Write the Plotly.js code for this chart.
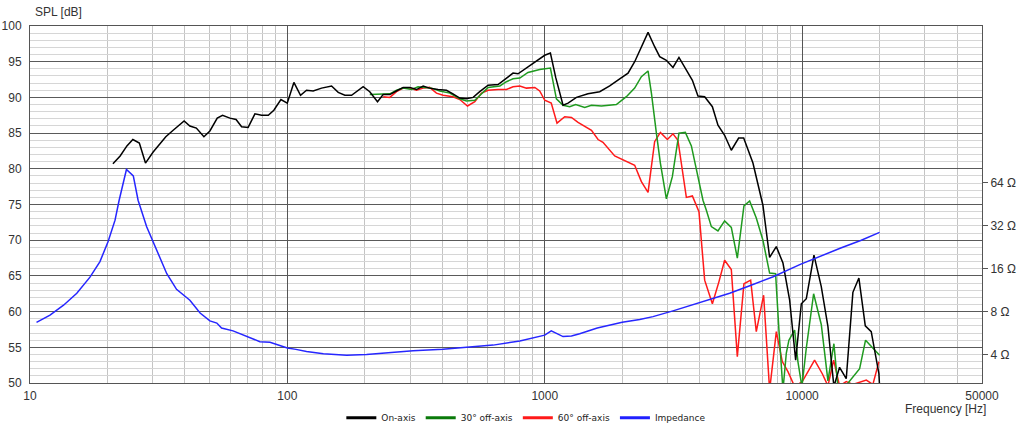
<!DOCTYPE html>
<html>
<head>
<meta charset="utf-8">
<script src="https://cdn.plot.ly/plotly-3.0.1.min.js"></script>
<style>html,body{margin:0;padding:0;background:#fff;}#chart{width:1024px;height:433px;}</style>
</head>
<body>
<div id="chart"></div>
<script>
// On-axis SPL
var onFreq = [21.0,22.4,23.8,25.1,26.6,28.1,30.1,33.7,36.0,39.7,41.8,44.3,47.4,50,53.4,56.0,59.8,63.2,66.4,70.4,74.8,79.4,84.3,88.6,94.4,99.9,106,112.5,118.7,126,135.8,148.5,157.6,167.3,177.6,197,209,224,235.6,250,265,281.8,299,317.5,337,357,385,415,440,467.7,496,527,559,602.6,658.8,710,753,787.6,849,928.5,1000,1052,1103,1178,1232,1328,1472,1635,1788,1956,2107,2236,2374,2520,2673,2797,2969,3150,3323,3498,3747,3939,4182,4481,4711,5000,5308,5668,5929,6441,7043,7478,7940,8426,8944,9440,9930,10383,11119,11870,12600,13290,13980,14842,15752,16620,17600,18560,19880,20100];
var onSpl = [80.7,81.8,83.2,84.1,83.6,80.8,82.35,84.5,85.4,86.7,86.0,85.7,84.5,85.3,87.1,87.5,87.1,86.9,85.9,85.8,87.7,87.5,87.5,88.2,89.7,89.2,92.1,90.3,91.0,90.9,91.3,91.6,90.7,90.3,90.3,91.5,90.8,89.4,90.4,90.4,90.9,91.4,91.4,91.1,91.6,91.3,91.1,91.0,90.5,89.9,89.8,90.0,90.8,91.7,91.8,92.7,93.4,93.3,94.1,95.1,95.9,96.2,92.8,88.9,89.2,90.0,90.5,90.8,91.6,92.6,93.4,95.0,97.1,99.1,97.1,95.7,95.2,94.2,95.6,94.3,92.4,90.2,90.1,88.7,86.1,84.7,82.6,84.3,84.3,80.8,74.9,67.6,69.1,66.8,61.6,53.2,61.1,61.8,67.9,63.5,57.9,49.5,52.2,50.6,62.7,64.7,58.0,57.2,51.3,48];

// 30 deg off-axis SPL
var offFreq30 = [209,229,250,265.6,281.8,303.6,322,342,363,391,427.6,467.7,496,535,568,602.6,669,710,753,800,861,956,1052,1110,1178,1250,1319,1430,1519,1661,1898,2076,2236,2374,2520,2597,2715,2814,2969,3132,3323,3518,3713,3882,4119,4246,4440,4710,5000,5308,5601,5943,6254,6637,7043,7478,7889,8128,8426,8683,8886,9352,9632,9982,10383,11085,11870,12600,13290,13772,14930,16730,17640,20000];
var offSpl30 = [90.4,90.4,90.5,91.0,91.3,91.1,91.5,91.4,91.3,90.9,90.6,89.8,89.5,89.6,90.5,91.4,91.6,92.2,92.6,92.7,93.5,93.9,94.1,89.8,88.9,88.7,89.0,88.6,88.9,88.8,89.0,90.1,91.3,92.9,93.7,90.6,85.0,80.8,75.8,78.9,85.0,85.1,83.2,79.8,75.6,74.2,71.9,71.3,72.7,71.8,67.5,74.8,75.5,73.1,70.0,65.4,65.3,57.4,49,54.2,56.0,57.4,53.0,49.5,54.9,62.5,58.2,50.3,55.5,49.5,49.8,52.0,56.0,53.9];

// 60 deg off-axis SPL
var offFreq60 = [235.6,250,265.6,281.8,299,317.5,337,357,379.6,402.7,440,467.7,501,535,568,602.6,658.8,710,753,800,849,915,956,1000,1060,1116,1196,1270,1347,1452,1519,1611,1684,1870,2045,2236,2374,2520,2673,2814,2996,3150,3293,3444,3550,3747,3974,4182,4481,4753,5000,5308,5601,5943,6310,6637,7087,7478,7940,8376,8810,9352,10017,11180,11980,12600,13260,13980,14842,15752,16980,17760,18840,19880];
var offSpl60 = [90.1,90.0,90.8,91.3,91.3,91.0,91.3,91.4,90.6,90.3,90.1,89.7,88.8,89.4,90.6,91.0,91.1,91.1,91.5,91.6,91.3,91.4,90.9,89.6,89.2,86.4,87.3,87.2,86.5,85.8,85.4,84.1,83.7,81.8,81.1,80.5,78.2,76.7,83.8,85.1,84.1,84.9,84.0,79.4,76.0,76.2,74.0,64.4,61.1,64.2,67.2,65.9,53.7,63.9,64.4,57.2,62.3,49,57.2,53.0,51.6,49.5,50.2,53.2,51.3,49.6,53.2,49.6,50.2,49.8,50.2,50.4,49.8,53.0];

// Impedance (ohm)
var impFreq = [10.6,11.96,13.5,15.2,17.1,18.7,20.1,21.4,22.2,23.7,25.2,26.3,28.4,31.0,34.0,37.1,41.8,45.8,50,53.2,55.5,61.5,69.3,78.2,85.6,93.5,100,108,118.7,138,170,203,250,308,402,496,630,800,1000,1060,1178,1270,1367,1600,2000,2339,2634,3150,3642,4430,5230,6260,7720,9840,11440,14130,16980,20000];
var impOhm = [6.76,7.59,8.91,10.8,14.0,18.0,24.8,35.1,48.4,79.4,71.6,48.4,31.6,21.6,14.8,11.5,9.66,7.85,6.92,6.68,6.17,5.89,5.37,4.95,4.90,4.62,4.47,4.37,4.22,4.07,3.98,4.03,4.17,4.27,4.37,4.52,4.68,5.01,5.50,5.89,5.37,5.43,5.62,6.17,6.76,7.08,7.41,8.13,8.81,9.77,10.8,12.2,14.1,17.2,19.3,22.4,25.4,28.8];

// Axis tick labels
var freqTicks = [10,100,1000,10000,50000];
var freqTickText = ['10','100','1000','10000','50000'];
var splTicks = [50,55,60,65,70,75,80,85,90,95,100];
var ohmTicks = [4,8,16,32,64];
var ohmTickText = ['4 Ω','8 Ω','16 Ω','32 Ω','64 Ω'];
var seriesNames = ['On-axis','30° off-axis','60° off-axis','Impedance'];

var minorFreq = [];
[10,100,1000,10000].forEach(function(d){ for (var k=2;k<=9;k++){ if (d*k<50000) minorFreq.push(d*k);} });

// 1 ohm corresponds to ~41.9 dB on the SPL scale (6.02 dB per octave of impedance)
var ohmOffset = 41.9;
var y2range = [(50-ohmOffset)/20, (100-ohmOffset)/20];

var lineColors = ['#000000','#1f9a1f','#ff1a1a','#2626ff'];
var legendColors = ['#000000','#0a7a0a','#ff1a1a','#2020ff'];

var traces = [
  {x: offFreq60, y: offSpl60, type:'scatter', mode:'lines', line:{color:lineColors[2], width:1.5}, showlegend:false, hoverinfo:'skip'},
  {x: offFreq30, y: offSpl30, type:'scatter', mode:'lines', line:{color:lineColors[1], width:1.5}, showlegend:false, hoverinfo:'skip'},
  {x: onFreq, y: onSpl, type:'scatter', mode:'lines', line:{color:lineColors[0], width:1.5}, showlegend:false, hoverinfo:'skip'},
  {x: impFreq, y: impOhm, yaxis:'y2', type:'scatter', mode:'lines', line:{color:lineColors[3], width:1.5}, showlegend:false, hoverinfo:'skip'}
];
for (var i=0;i<4;i++){
  traces.push({x:[null], y:[null], type:'scatter', mode:'lines', name: seriesNames[i], line:{color:legendColors[i], width:3}, showlegend:true});
}

var layout = {
  width:1024, height:433,
  margin:{l:30, r:42, t:26, b:50},
  paper_bgcolor:'#ffffff', plot_bgcolor:'#ffffff',
  font:{family:'"Liberation Sans", Arial, sans-serif', size:12, color:'#333333'},
  showlegend:true,
  legend:{orientation:'h', x:0.514, xanchor:'center', xref:'container', yref:'container', y:0.035, yanchor:'middle',
          font:{family:'"DejaVu Sans", sans-serif', size:9, color:'#222'}, itemwidth:30, traceorder:'normal'},
  xaxis:{type:'log', range:[1, Math.log10(50000)], tickmode:'array', tickvals:freqTicks, ticktext:freqTickText,
         showgrid:true, gridcolor:'#555555', gridwidth:1, ticks:'', ticklabelstandoff:2,
         showline:true, linecolor:'#555555', linewidth:1, mirror:true, zeroline:false,
         minor:{tickmode:'array', tickvals:minorFreq, showgrid:true, gridcolor:'#c4c4c4', gridwidth:1, ticks:''},
         tickfont:{size:12, color:'#333'}},
  yaxis:{range:[50,100], tickmode:'array', tickvals:splTicks, showgrid:true, gridcolor:'#5a5a5a', gridwidth:1,
         ticks:'', ticklabelstandoff:5, showline:true, linecolor:'#555555', mirror:true, zeroline:false,
         minor:{dtick:1, showgrid:true, gridcolor:'#d6d6d6', gridwidth:1, ticks:''},
         tickfont:{size:12, color:'#333'}},
  yaxis2:{type:'log', overlaying:'y', side:'right', range:y2range, tickmode:'array', tickvals:ohmTicks, ticktext:ohmTickText,
          showgrid:false, ticks:'outside', ticklen:5, tickcolor:'#555', zeroline:false, showline:false,
          tickfont:{size:12, color:'#333'}},
  annotations:[
    {text:'SPL [dB]', xref:'paper', yref:'paper', x:0, y:1, xanchor:'left', yanchor:'bottom', xshift:3, yshift:5, showarrow:false,
     font:{size:12, color:'#333'}},
    {text:'Frequency [Hz]', xref:'paper', yref:'paper', x:1, y:0, xanchor:'right', yanchor:'top', xshift:6, yshift:-17, showarrow:false,
     font:{size:12, color:'#333'}}
  ]
};

Plotly.newPlot('chart', traces, layout, {staticPlot:true, displayModeBar:false});
</script>
</body>
</html>
